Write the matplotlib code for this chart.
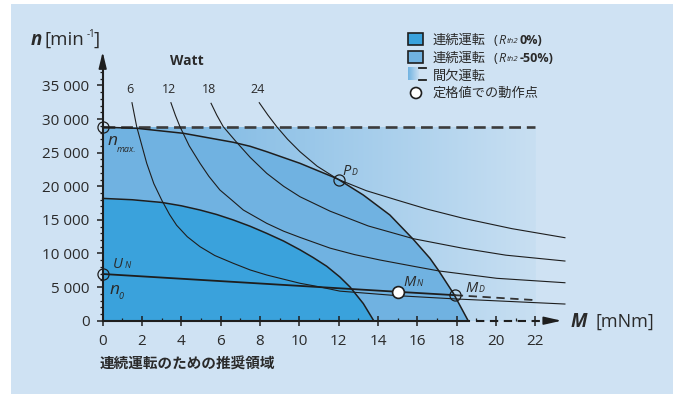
import numpy as np
import matplotlib
matplotlib.use("Agg")
import matplotlib.pyplot as plt
from matplotlib.patches import Rectangle, Circle
from matplotlib.colors import to_rgb

plt.rcParams['font.family'] = ['Open Sans', 'Noto Sans CJK JP', 'DejaVu Sans']
plt.rcParams['lines.scale_dashes'] = False

# ---- operating range data: torque M [mNm], speed n [min-1] ----
n_max = 28800

# continuous operation, Rth2 0%
cont0_M = [0.0, 1.5, 3.0, 4.0, 4.95, 5.8, 6.64, 7.5, 8.34, 9.2, 10.03, 10.7, 11.39, 12.06, 12.58, 13.25, 13.78]
cont0_n = [18200, 18000, 17600, 17100, 16470, 15800, 14990, 14050, 13000, 11850, 10550, 9400, 8100, 6500, 5000, 2550, 0]

# continuous operation, Rth2 -50%
cont50_M = [0.0, 1.73, 4.1, 6.64, 7.5, 8.34, 10.03, 11.72, 12.0, 13.25, 14.6, 15.79, 16.64, 17.06, 17.83, 18.58]
cont50_n = [28800, 28630, 27890, 26550, 25950, 25150, 23420, 21380, 21000, 18700, 15730, 12110, 9280, 7540, 4070, 0]

# constant power lines [W]
watt_labels = ['6', '12', '18', '24']
watt6_M = [1.49, 1.73, 2.24, 2.6, 3.0, 3.4, 3.76, 4.3, 4.95, 5.7, 6.64, 7.5, 8.34, 10.03, 11.0, 12.06, 15.0, 18.0, 23.5]
watt6_n = [32440, 28870, 23420, 20400, 17960, 15800, 14200, 12500, 11010, 9700, 8540, 7550, 6800, 5570, 5050, 4400, 3720, 3230, 2480]
watt12_M = [3.47, 3.7, 3.93, 4.4, 4.95, 5.4, 5.96, 6.56, 7.15, 8.34, 9.2, 10.03, 11.56, 12.8, 14.1, 16.0, 17.1, 20.03, 23.5]
watt12_n = [32440, 30540, 28870, 26020, 23420, 21480, 19450, 17960, 16470, 14490, 13320, 12400, 10800, 9840, 9030, 7990, 7400, 6310, 5650]
watt18_M = [5.51, 5.8, 6.13, 6.81, 7.5, 8.34, 9.2, 10.03, 11.56, 13.5, 15.8, 18.33, 20.5, 23.5]
watt18_n = [32350, 30600, 28870, 26550, 24300, 21930, 20000, 18450, 16300, 14100, 12200, 10770, 9750, 8880]
watt24_M = [7.96, 8.4, 8.85, 9.4, 10.03, 10.9, 11.72, 12.0, 13.4, 14.95, 16.5, 18.33, 20.8, 23.5]
watt24_n = [32440, 30600, 28870, 27000, 25150, 23000, 21480, 21000, 19350, 17960, 16600, 15240, 13700, 12350]

# speed-torque line at nominal voltage U_N
un_M = [0.0, 15.0, 17.9]
un_n = [6950, 4300, 3800]
un_ext_M = [17.9, 22.06]
un_ext_n = [3800, 3050]

# rated / limit points
P_D = (12.0, 21000)
M_N = (15.0, 4300)
M_D = (17.9, 3800)
n_0 = (0.0, 6950)

x_ticks = [0, 2, 4, 6, 8, 10, 12, 14, 16, 18, 20, 22]
y_ticks = [0, 5000, 10000, 15000, 20000, 25000, 30000, 35000]
y_tick_labels = ['0', '5 000', '10 000', '15 000', '20 000', '25 000', '30 000', '35 000']

# ---- colours ----
c_panel = '#cfe2f3'
c_dark = '#3aa2dc'
c_mid = '#70b2e1'
c_fade = '#c8dff2'
c_ink = '#1e1e1e'
c_text = '#2a2a2a'

W, H = 675, 394


def fpos(x, y):
    """pixel position (from top-left) -> figure fraction"""
    return x / W, 1 - y / H


fig = plt.figure(figsize=(W / 100, H / 100), dpi=100, facecolor='white')
fig.patches.append(Rectangle((11 / W, 0), 662 / W, 390 / H, transform=fig.transFigure,
                             facecolor=c_panel, edgecolor='none', zorder=-1))

ax = fig.add_axes([83.0 / W, 59.86 / H, 501.6 / W, 285.6 / H])
ax.set_facecolor('none')
ax.set_xlim(-1, 24.5)
ax.set_ylim(-2000, 40500)
ax.set_axisbelow(False)

# intermittent operation: fading band under n_max
ramp = np.array([np.linspace(to_rgb(c_mid)[i], to_rgb(c_fade)[i], 256) for i in range(3)]).T
ax.imshow(ramp[np.newaxis, :, :], extent=[0, 22, 0, n_max], aspect='auto',
          interpolation='bilinear', zorder=0.5)

ax.fill_between(cont50_M, cont50_n, 0, color=c_mid, lw=0, zorder=0.6)
ax.fill_between(cont0_M, cont0_n, 0, color=c_dark, lw=0, zorder=0.7)

# limit lines
ax.plot([0, 22], [n_max, n_max], color='#3c3c3c', lw=1.9, dashes=(8.5, 4.2), zorder=3)
ax.plot(cont50_M, cont50_n, color=c_ink, lw=1.1, zorder=4, solid_joinstyle='round')
ax.plot(cont0_M, cont0_n, color=c_ink, lw=1.1, zorder=4, solid_joinstyle='round')
for wm, wn in [(watt6_M, watt6_n), (watt12_M, watt12_n), (watt18_M, watt18_n), (watt24_M, watt24_n)]:
    ax.plot(wm, wn, color=c_ink, lw=0.8, zorder=4, solid_joinstyle='round')
ax.plot(un_M, un_n, color=c_ink, lw=1.3, zorder=4)
ax.plot(un_ext_M, un_ext_n, color='#333333', lw=1.3, dashes=(6, 4), zorder=4)

# marked points
for pt in [(0, n_max), n_0, P_D, M_D]:
    ax.plot(*pt, 'o', ms=8, mfc='none', mec=c_ink, mew=0.9, zorder=6, clip_on=False)
ax.plot(*M_N, 'o', ms=8.5, mfc='white', mec=c_ink, mew=1.2, zorder=6)

# watt labels above each power line
ax.text(4.29, 38700, 'Watt', fontsize=10, fontweight='bold', color=c_text, ha='center', va='center')
for lab, wm in zip(watt_labels, [watt6_M, watt12_M, watt18_M, watt24_M]):
    ax.text(wm[0] - 0.1, 34400, lab, fontsize=9, color=c_text, ha='center', va='center')


# point labels (symbol + subscript)
def sym(x, y, main, sub, dx, size=10.5, subsize=6.3, dy=0):
    ax.text(x, y, main, fontsize=size, style='italic', color=c_text, va='baseline', zorder=7)
    ax.text(x + dx, y - dy, sub, fontsize=subsize, style='italic', color=c_text, va='baseline', zorder=7)


sym(0.27, 26150, 'n', 'max.', 0.47, size=12.5, subsize=6.5, dy=1000)
sym(0.52, 7840, 'U', 'N', 0.58)
sym(0.34, 3970, 'n', '0', 0.46, size=12.5, subsize=6.5, dy=700)
sym(12.2, 21680, 'P', 'D', 0.45)
sym(15.27, 5160, 'M', 'N', 0.68)
sym(18.42, 4270, 'M', 'D', 0.68)

# axes: spines through the origin with arrow heads
for side in ['top', 'right']:
    ax.spines[side].set_visible(False)
ax.spines['left'].set_position(('data', 0))
ax.spines['bottom'].set_position(('data', 0))
ax.spines['left'].set_bounds(0, 38200)
ax.spines['bottom'].set_bounds(0, 18.6)
for side in ['left', 'bottom']:
    ax.spines[side].set_linewidth(1.5)
    ax.spines[side].set_color(c_ink)
    ax.spines[side].set_zorder(5)
ax.plot([19.0, 22.7], [0, 0], color=c_ink, lw=1.5, dashes=(6, 4), zorder=5, clip_on=False)
ax.annotate('', xy=(23.33, 0), xytext=(22.6, 0),
            arrowprops=dict(arrowstyle='-|>,head_length=0.75,head_width=0.17', mutation_scale=14,
                            color=c_ink, lw=1.2, shrinkA=0, shrinkB=0))
ax.annotate('', xy=(0, 40000), xytext=(0, 38000),
            arrowprops=dict(arrowstyle='-|>,head_length=0.7,head_width=0.17', mutation_scale=14,
                            color=c_ink, lw=1.2, shrinkA=0, shrinkB=0))

ax.set_xticks(x_ticks)
ax.set_xticklabels([str(v) for v in x_ticks])
ax.set_xticks(list(range(1, 23, 2)), minor=True)
ax.set_yticks(y_ticks)
ax.set_yticklabels(y_tick_labels)
ax.set_yticks(list(range(0, 38001, 1000)), minor=True)
ax.tick_params(axis='y', which='major', direction='out', length=4.5, width=1.1, pad=5,
               labelsize=11, color=c_ink, labelcolor=c_text)
ax.tick_params(axis='y', which='minor', direction='out', length=2.4, width=0.9, color=c_ink)
ax.tick_params(axis='x', which='major', direction='inout', length=6.5, width=1.1, pad=6,
               labelsize=11, color=c_ink, labelcolor=c_text)
ax.tick_params(axis='x', which='minor', direction='in', length=2.4, width=0.9, color=c_ink)

# axis titles
ax.text(23.76, -900, 'M', fontsize=13.5, fontweight='bold', style='italic', color=c_text, va='baseline')
ax.text(25.03, -900, '[mNm]', fontsize=13, color=c_text, va='baseline', clip_on=False)
fig.text(*fpos(31, 45), 'n', fontsize=13.5, fontweight='bold', style='italic', color=c_text, va='baseline')
fig.text(*fpos(45, 45), '[min', fontsize=13.5, color=c_text, va='baseline')
fig.text(*fpos(86.5, 37), '-1', fontsize=7, color=c_text, va='baseline')
fig.text(*fpos(94, 45), ']', fontsize=13.5, color=c_text, va='baseline')

fig.text(*fpos(100, 364), '連続運転のための推奨領域', fontsize=10.5, fontweight='bold',
         family=['Noto Sans CJK JP'], color=c_text, va='center')

# legend
fig.add_artist(Rectangle(fpos(408, 45), 15 / W, 12 / H, transform=fig.transFigure,
                         facecolor=c_dark, edgecolor=c_ink, lw=1.2))
fig.add_artist(Rectangle(fpos(408, 63), 15 / W, 12 / H, transform=fig.transFigure,
                         facecolor=c_mid, edgecolor=c_ink, lw=1.2))
lax = fig.add_axes([408 / W, 1 - 80 / H, 11 / W, 13 / H])
lax.imshow(ramp[np.newaxis, :, :], aspect='auto', interpolation='bilinear')
lax.axis('off')
for yy in [67.5, 79.5]:
    fig.add_artist(plt.Line2D([419 / W, 426 / W], [1 - yy / H] * 2, transform=fig.transFigure,
                              color=c_ink, lw=1.3))
fig.add_artist(Circle((4.16, (H - 93) / 100), 0.055, transform=fig.dpi_scale_trans,
                      facecolor='white', edgecolor=c_ink, lw=1.2))

leg_kw = dict(fontsize=9.5, color=c_text, va='center', family=['Noto Sans CJK JP'])
fig.text(*fpos(433, 40), '連続運転', **leg_kw)
fig.text(*fpos(433, 58), '連続運転', **leg_kw)
fig.text(*fpos(433, 76), '間欠運転', **leg_kw)
fig.text(*fpos(433, 93), '定格値での動作点', **leg_kw)
for yy, pct in [(40, '0%)'), (58, '-50%)')]:
    fig.text(*fpos(493, yy), '(', fontsize=9.5, color=c_text, va='center')
    fig.text(*fpos(498, yy), 'R', fontsize=9, style='italic', color=c_text, va='center')
    fig.text(*fpos(506.5, yy + 1.5), 'th2', fontsize=5.8, style='italic', color=c_text, va='center')
    fig.text(*fpos(520, yy), pct, fontsize=9, fontweight='bold', color=c_text, va='center')

fig.savefig('out.png', dpi=100, facecolor='white')
